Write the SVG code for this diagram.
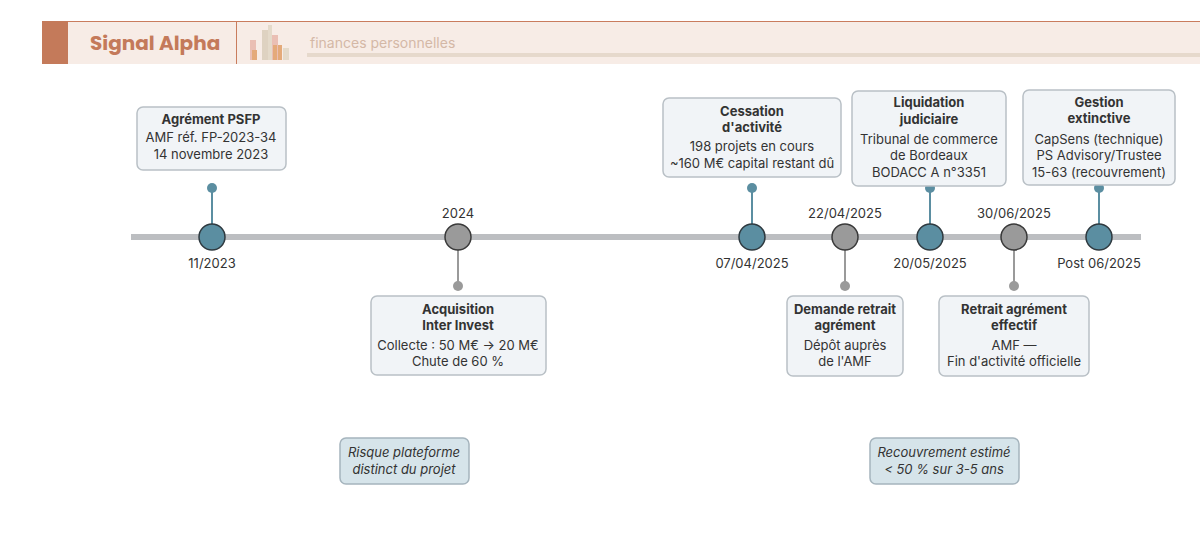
<svg xmlns="http://www.w3.org/2000/svg" width="1200" height="541" viewBox="0 0 1200 541">
<style>
text{font-family:Inter,"Noto Sans","Liberation Sans",sans-serif;fill:#333}
.box{fill:#f1f4f7;stroke:#b9c0c6;stroke-width:1.5}
.t{font-weight:bold;font-size:13px;text-anchor:middle}
.b{font-size:13px;text-anchor:middle}
.d{font-size:13px;text-anchor:middle;fill:#333}
.nb{fill:#5b8ea1;stroke:#2f3a40;stroke-width:1.5}
.ng{fill:#9a9a9a;stroke:#3a3a3a;stroke-width:1.5}
.sb{stroke:#5b8ea1;stroke-width:2}
.sg{stroke:#9a9a9a;stroke-width:2}
.note{fill:#d6e4ea;stroke:#a5b4bd;stroke-width:1.5}
.n{font-size:13px;font-style:italic;text-anchor:middle}
</style>
<rect width="1200" height="541" fill="#fff"/>
<g id="header">
<rect x="42" y="21" width="1158" height="43" fill="#f7ece6"/>
<line x1="42" y1="21.5" x2="1200" y2="21.5" stroke="#c97c5d" stroke-width="1"/>
<rect x="42" y="21" width="26" height="43" fill="#c47a5a"/>
<text x="90" y="50" style="font-family:Poppins,Lato,'Liberation Sans',sans-serif;font-weight:bold;font-size:20px;fill:#c47a5a">Signal Alpha</text>
<line x1="236.5" y1="21" x2="236.5" y2="64" stroke="#c97c5d"/>
<g opacity="0.8">
<rect x="250" y="40" width="6" height="20" fill="#e8b4a8"/>
<rect x="252" y="50" width="5" height="10" fill="#e09a60"/>
<rect x="262" y="30" width="6" height="30" fill="#d8ccb8"/>
<rect x="268" y="25" width="4" height="35" fill="#e0d6c4"/>
<rect x="272" y="35" width="6" height="25" fill="#e8b4a8"/>
<rect x="273" y="45" width="4" height="15" fill="#e09a60"/>
<rect x="278" y="45" width="4" height="15" fill="#e09a60"/>
<rect x="283" y="48" width="6" height="12" fill="#e0d6c4"/>
</g>
<text x="310" y="48" style="font-size:14px;fill:#d4b8a6">finances personnelles</text>
<rect x="307" y="53" width="893" height="4" fill="#e6d9cc"/>
</g>
<g id="connectors">
<line x1="131" y1="237" x2="1141" y2="237" stroke="#bcbec1" stroke-width="6"/>
<line class="sb" x1="212" y1="188" x2="212" y2="237"/><circle cx="212" cy="188" r="5" fill="#5b8ea1"/>
<line class="sg" x1="458" y1="237" x2="458" y2="286"/><circle cx="458" cy="286" r="5" fill="#9a9a9a"/>
<line class="sb" x1="752" y1="188" x2="752" y2="237"/><circle cx="752" cy="188" r="5" fill="#5b8ea1"/>
<line class="sg" x1="845" y1="237" x2="845" y2="286"/><circle cx="845" cy="286" r="5" fill="#9a9a9a"/>
<line class="sb" x1="930" y1="188" x2="930" y2="237"/><circle cx="930" cy="188" r="5" fill="#5b8ea1"/>
<line class="sg" x1="1014" y1="237" x2="1014" y2="286"/><circle cx="1014" cy="286" r="5" fill="#9a9a9a"/>
<line class="sb" x1="1099" y1="188" x2="1099" y2="237"/><circle cx="1099" cy="188" r="5" fill="#5b8ea1"/>
</g>
<g id="n1"><circle class="nb" cx="212" cy="237" r="13"/><text class="d" x="212" y="268">11/2023</text>
<rect class="box" x="137" y="107" width="149" height="63" rx="6"/><text class="t" x="211" y="124">Agrément PSFP</text><text class="b" x="211" y="142">AMF réf. FP-2023-34</text><text class="b" x="211" y="159">14 novembre 2023</text></g>
<g id="n2"><circle class="ng" cx="458" cy="237" r="13"/><text class="d" x="458" y="218">2024</text>
<rect class="box" x="371" y="296" width="175" height="79" rx="6"/><text class="t" x="458" y="314">Acquisition</text><text class="t" x="458" y="330">Inter Invest</text><text class="b" x="458" y="350">Collecte : 50 M€ → 20 M€</text><text class="b" x="458" y="366">Chute de 60 %</text></g>
<g id="n3"><circle class="nb" cx="752" cy="237" r="13"/><text class="d" x="752" y="268">07/04/2025</text>
<rect class="box" x="663" y="98" width="178" height="79" rx="6"/><text class="t" x="752" y="116">Cessation</text><text class="t" x="752" y="132">d'activité</text><text class="b" x="752" y="151">198 projets en cours</text><text class="b" x="752" y="168">~160 M€ capital restant dû</text></g>
<g id="n4"><circle class="ng" cx="845" cy="237" r="13"/><text class="d" x="845" y="218">22/04/2025</text>
<rect class="box" x="787" y="296" width="116" height="80" rx="6"/><text class="t" x="845" y="314">Demande retrait</text><text class="t" x="845" y="330">agrément</text><text class="b" x="845" y="350">Dépôt auprès</text><text class="b" x="845" y="366">de l'AMF</text></g>
<g id="n5"><circle class="nb" cx="930" cy="237" r="13"/><text class="d" x="930" y="268">20/05/2025</text>
<rect class="box" x="852" y="91" width="154" height="95" rx="6"/><text class="t" x="929" y="107">Liquidation</text><text class="t" x="929" y="124">judiciaire</text><text class="b" x="929" y="144">Tribunal de commerce</text><text class="b" x="929" y="160">de Bordeaux</text><text class="b" x="929" y="177">BODACC A n°3351</text></g>
<g id="n6"><circle class="ng" cx="1014" cy="237" r="13"/><text class="d" x="1014" y="218">30/06/2025</text>
<rect class="box" x="939" y="296" width="150" height="80" rx="6"/><text class="t" x="1014" y="314">Retrait agrément</text><text class="t" x="1014" y="330">effectif</text><text class="b" x="1014" y="350">AMF —</text><text class="b" x="1014" y="366">Fin d'activité officielle</text></g>
<g id="n7"><circle class="nb" cx="1099" cy="237" r="13"/><text class="d" x="1099" y="268">Post 06/2025</text>
<rect class="box" x="1023" y="90" width="152" height="95" rx="6"/><text class="t" x="1099" y="107">Gestion</text><text class="t" x="1099" y="123">extinctive</text><text class="b" x="1099" y="144">CapSens (technique)</text><text class="b" x="1099" y="160">PS Advisory/Trustee</text><text class="b" x="1099" y="177">15-63 (recouvrement)</text></g>
<g id="note1"><rect class="note" x="340" y="438" width="129" height="46" rx="6"/><text class="n" x="404" y="457">Risque plateforme</text><text class="n" x="404" y="474">distinct du projet</text></g>
<g id="note2"><rect class="note" x="870" y="438" width="149" height="46" rx="6"/><text class="n" x="944" y="457">Recouvrement estimé</text><text class="n" x="944" y="474">&lt; 50 % sur 3-5 ans</text></g>
</svg>
